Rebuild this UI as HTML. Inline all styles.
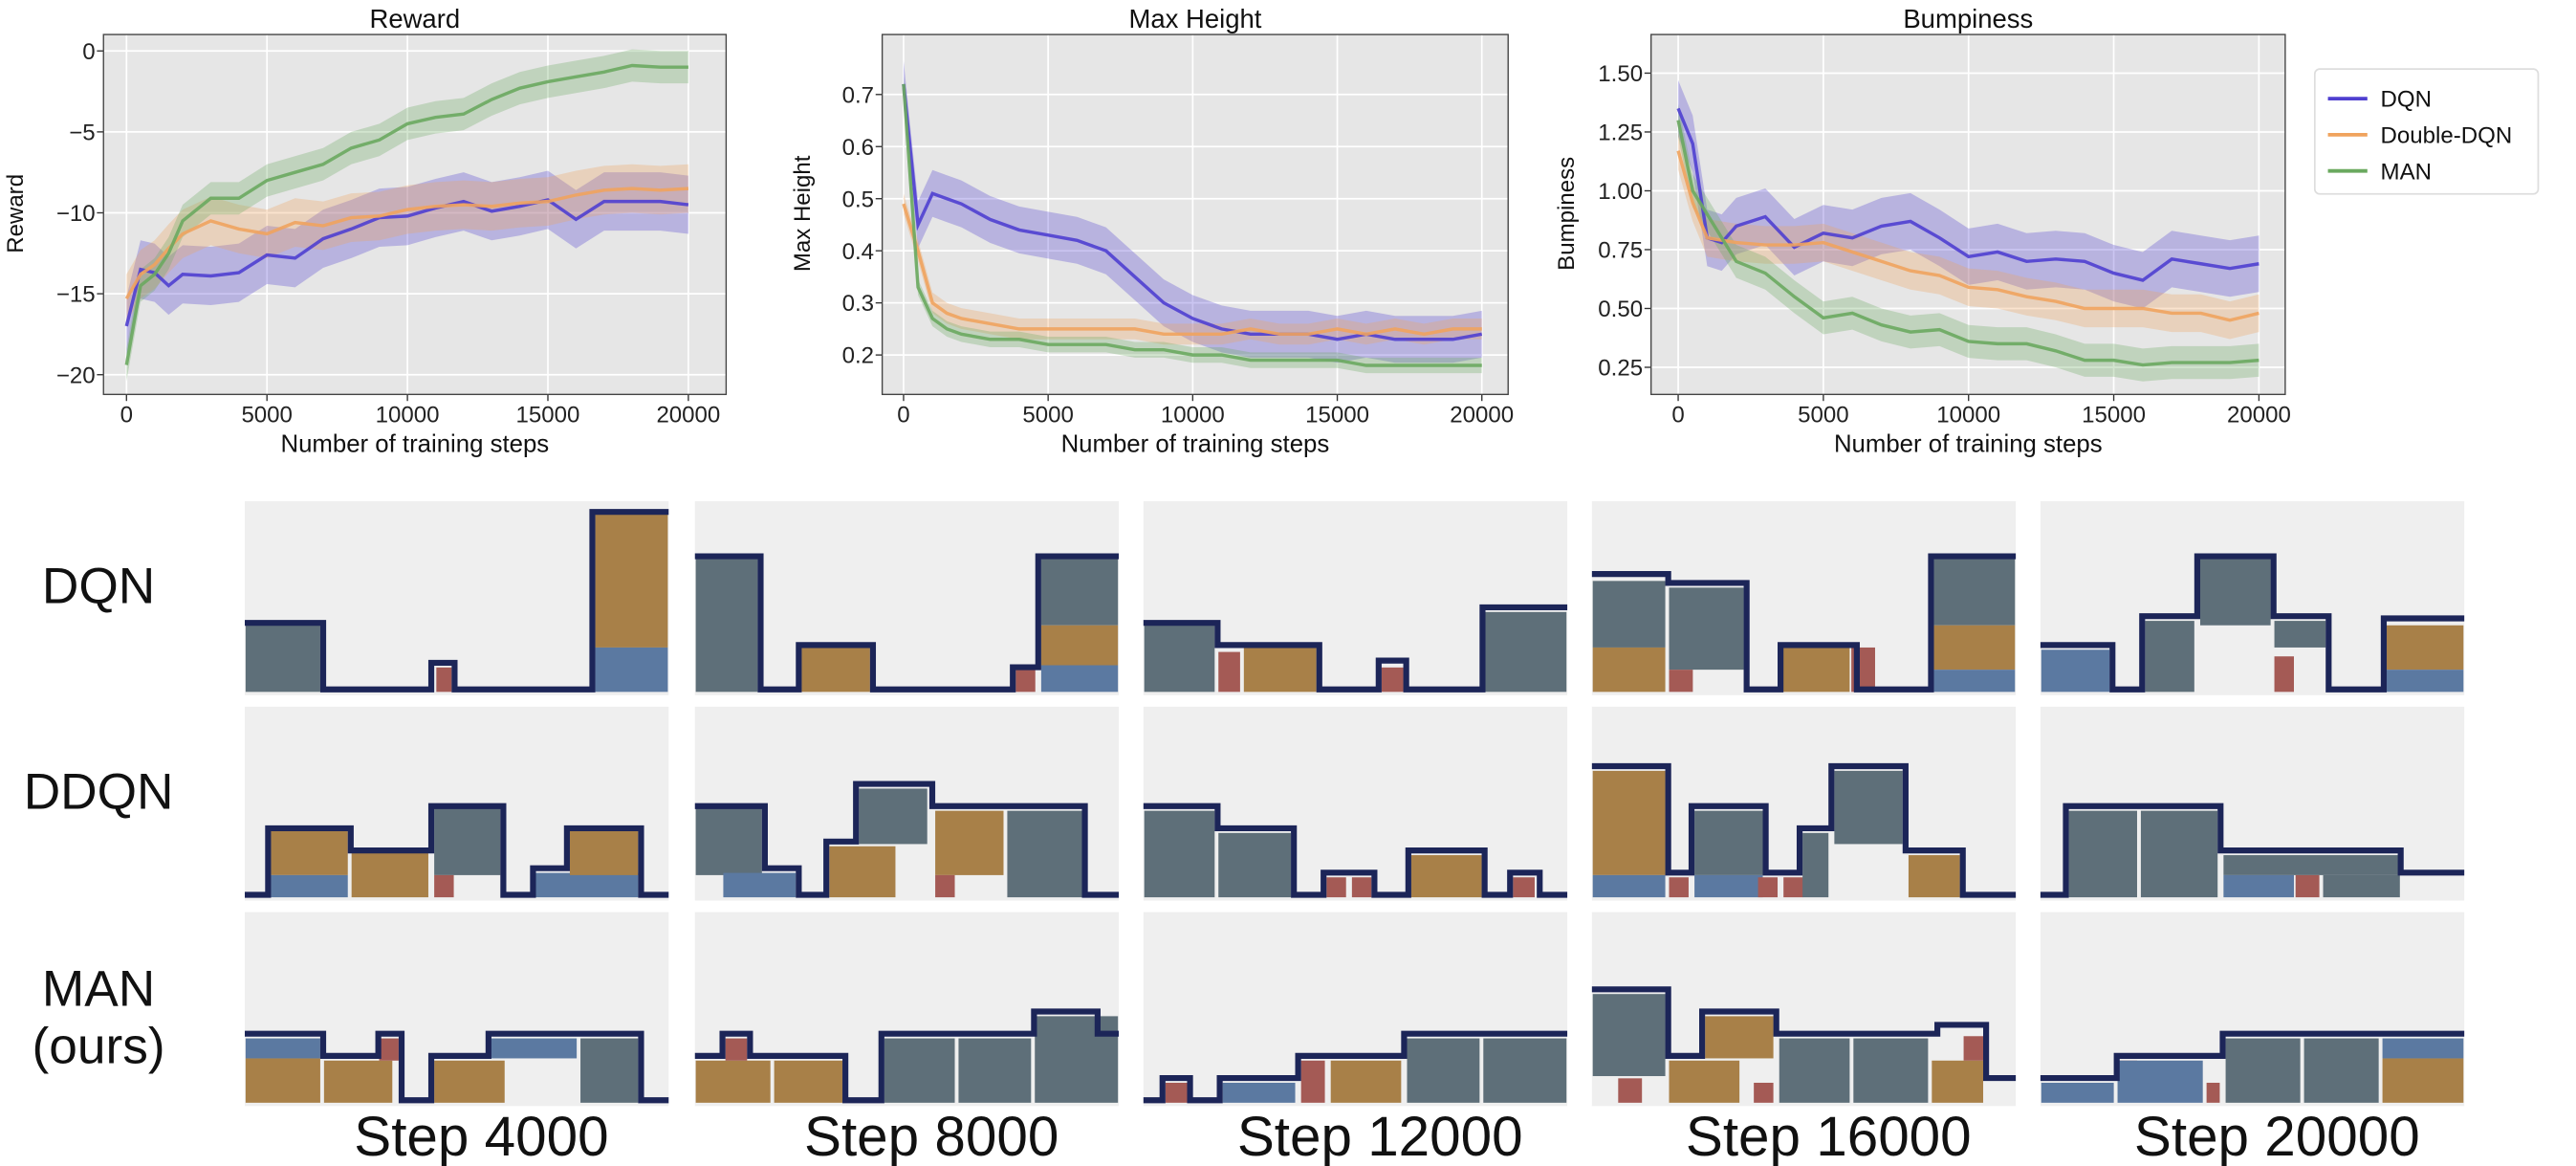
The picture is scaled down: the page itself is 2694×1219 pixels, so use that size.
<!DOCTYPE html>
<html><head><meta charset="utf-8"><style>
html,body{margin:0;padding:0;background:#fff;}
svg{display:block;font-family:"Liberation Sans","DejaVu Sans",sans-serif;}
</style></head><body>
<svg id="fig" width="2694" height="1219" viewBox="0 0 1568 709.5" preserveAspectRatio="none" xmlns="http://www.w3.org/2000/svg"></svg>
<script>
const steps = [0,500,1000,1500,2000,3000,4000,5000,6000,7000,8000,9000,10000,11000,12000,13000,14000,15000,16000,17000,18000,19000,20000];
const xTicks = [0,5000,10000,15000,20000];
const seriesNames = ["DQN","Double-DQN","MAN"];
const rewardDQN = [-17,-13.5,-13.7,-14.5,-13.8,-13.9,-13.7,-12.6,-12.8,-11.6,-11.0,-10.3,-10.2,-9.7,-9.3,-9.9,-9.6,-9.2,-10.4,-9.3,-9.3,-9.3,-9.5];
const rewardDDQN = [-15.3,-13.8,-13.2,-12.2,-11.3,-10.5,-11.0,-11.3,-10.6,-10.8,-10.3,-10.2,-9.8,-9.6,-9.5,-9.6,-9.4,-9.3,-8.9,-8.6,-8.5,-8.6,-8.5];
const rewardMAN = [-19.4,-14.5,-13.8,-12.5,-10.5,-9.1,-9.1,-8.0,-7.5,-7.0,-6.0,-5.5,-4.5,-4.1,-3.9,-3.0,-2.3,-1.9,-1.6,-1.3,-0.9,-1.0,-1.0];
const rewardTicks = [0,-5,-10,-15,-20];
const heightDQN = [0.72,0.45,0.51,0.50,0.49,0.46,0.44,0.43,0.42,0.40,0.35,0.30,0.27,0.25,0.24,0.24,0.24,0.23,0.24,0.23,0.23,0.23,0.24];
const heightDDQN = [0.49,0.40,0.30,0.28,0.27,0.26,0.25,0.25,0.25,0.25,0.25,0.24,0.24,0.24,0.25,0.24,0.24,0.25,0.24,0.25,0.24,0.25,0.25];
const heightMAN = [0.72,0.33,0.27,0.25,0.24,0.23,0.23,0.22,0.22,0.22,0.21,0.21,0.20,0.20,0.19,0.19,0.19,0.19,0.18,0.18,0.18,0.18,0.18];
const heightTicks = [0.2,0.3,0.4,0.5,0.6,0.7];
const bumpDQN = [1.35,1.2,0.80,0.78,0.85,0.89,0.76,0.82,0.80,0.85,0.87,0.80,0.72,0.74,0.70,0.71,0.70,0.65,0.62,0.71,0.69,0.67,0.69];
const bumpDDQN = [1.17,0.95,0.80,0.79,0.78,0.77,0.77,0.78,0.74,0.70,0.66,0.64,0.59,0.58,0.55,0.53,0.50,0.50,0.50,0.48,0.48,0.45,0.48];
const bumpMAN = [1.30,1.0,0.90,0.80,0.70,0.65,0.55,0.46,0.48,0.43,0.40,0.41,0.36,0.35,0.35,0.32,0.28,0.28,0.26,0.27,0.27,0.27,0.28];
const bumpTicks = [0.25,0.5,0.75,1.0,1.25,1.5];
const bandReward = [1.8,1.5,1.0];
const bandHeight = [0.045,0.02,0.015];
const bandBump = [0.12,0.08,0.07];

const NS="http://www.w3.org/2000/svg";
const svg=document.getElementById('fig');
function el(tag,attrs,parent,text){const e=document.createElementNS(NS,tag);for(const k in attrs)e.setAttribute(k,attrs[k]);if(text!==undefined)e.textContent=text;(parent||svg).appendChild(e);return e;}
const colors=["#4f3fd0","#f0a35e","#6aa95f"];

function chart(c){
  const g=el('g',{});
  
  
  const fx=v=>c.x0+(v-0)/(20000)*(c.x1-c.x0);
  const fy=v=>c.ya+(v-c.va)/(c.vb-c.va)*(c.yb-c.ya);
  el('rect',{x:c.L,y:21,width:c.R-c.L,height:219,fill:"#e6e6e6"},g);
  xTicks.forEach(t=>{el('line',{x1:fx(t),x2:fx(t),y1:21,y2:240,stroke:"#fff","stroke-width":1},g);
    const tl=el('text',{x:fx(t),y:257,"text-anchor":"middle","font-size":14,fill:"#222"},g,String(t));
    
    
    el('line',{x1:fx(t),x2:fx(t),y1:240,y2:244,stroke:"#333","stroke-width":0.8},g);});
  c.ticks.forEach(t=>{const y=fy(t);el('line',{x1:c.L,x2:c.R,y1:y,y2:y,stroke:"#fff","stroke-width":1},g);
    const tl=el('text',{x:c.L-5,y:y+5,"text-anchor":"end","font-size":14,fill:"#222"},g,c.fmt(t));
    
    
    el('line',{x1:c.L-4,x2:c.L,y1:y,y2:y,stroke:"#333","stroke-width":0.8},g);});
  c.series.forEach((s,i)=>{
    let up=steps.map((x,j)=>fx(x)+','+fy(s[j]+c.band[i])).join(' ');
    let dn=steps.map((x,j)=>fx(x)+','+fy(s[j]-c.band[i])).reverse().join(' ');
    const b=el('polygon',{points:up+' '+dn,fill:colors[i],"fill-opacity":0.3},g);
    
    
  });
  c.series.forEach((s,i)=>{
    const l=el('polyline',{points:steps.map((x,j)=>fx(x)+','+fy(s[j])).join(' '),fill:"none",stroke:colors[i],"stroke-width":2,"stroke-opacity":0.9},g);
    
    
  });
  el('rect',{x:c.L,y:21,width:c.R-c.L,height:219,fill:"none",stroke:"#444","stroke-width":0.8},g);
  const t=el('text',{x:(c.L+c.R)/2,y:17,"text-anchor":"middle","font-size":16,fill:"#111"},g,c.title);
  
  
  const xl=el('text',{x:(c.L+c.R)/2,y:275,"text-anchor":"middle","font-size":15,fill:"#111"},g,"Number of training steps");
  
  
  const yl=el('text',{x:0,y:0,transform:`translate(${c.ylx},130) rotate(-90)`,"text-anchor":"middle","font-size":14,fill:"#111"},g,c.title);
  
  
}
chart({name:"reward",title:"Reward",L:63,R:442,x0:77,x1:419,va:0,ya:31,vb:-20,yb:228,ticks:rewardTicks,fmt:t=>t<0?'\u2212'+(-t):String(t),series:[rewardDQN,rewardDDQN,rewardMAN],band:bandReward,ylx:14});
chart({name:"max-height",title:"Max Height",L:537,R:918,x0:550,x1:902,va:0.7,ya:57.5,vb:0.2,yb:216,ticks:heightTicks,fmt:t=>t.toFixed(1),series:[heightDQN,heightDDQN,heightMAN],band:bandHeight,ylx:493});
chart({name:"bumpiness",title:"Bumpiness",L:1005,R:1391,x0:1021.5,x1:1375,va:1.5,ya:44.5,vb:0.25,yb:223.5,ticks:bumpTicks,fmt:t=>t.toFixed(2),series:[bumpDQN,bumpDDQN,bumpMAN],band:bandBump,ylx:958});

const lg=el('g',{});


el('rect',{x:1409,y:42,width:136,height:76,rx:3,fill:"#fff",stroke:"#ddd","stroke-width":1},lg);
seriesNames.forEach((n,i)=>{const y=60+i*22;
  el('line',{x1:1417,x2:1441,y1:y,y2:y,stroke:colors[i],"stroke-width":2.2},lg);
  const t=el('text',{x:1449,y:y+5,"font-size":14,fill:"#111"},lg,n);
  
  });

const C={S:"#5e6f79",O:"#a88048",B:"#5b79a1",R:"#a45a55"};
const panelX=[149,423,696,969,1242];
const rowTop=[305,430,555];
const rowLabels=["DQN","DDQN","MAN"];
const stepLabels=["Step 4000","Step 8000","Step 12000","Step 16000","Step 20000"];
const boards=[
[
 {o:[[0,3],[3.7,0],[8.8,1.2],[9.9,0],[16.4,8]],r:[[0,3.6,0,3,'S'],[9,9.8,0,1.1,'R'],[16.5,20,2,8,'O'],[16.5,20,0,2,'B']]},
 {o:[[0,6],[3.1,0],[4.9,2],[8.4,0],[15,1],[16.2,6]],r:[[0,3,0,6,'S'],[5,8.3,0,2,'O'],[15.1,16.1,0,1,'R'],[16.3,20,3,6,'S'],[16.3,20,1.2,3,'O'],[16.3,20,0,1.2,'B']]},
 {o:[[0,3],[3.5,2],[8.3,0],[11.1,1.3],[12.4,0],[16,3.7]],r:[[0,3.4,0,3,'S'],[3.5,4.6,0,1.8,'R'],[4.7,8.2,0,2,'O'],[11.2,12.3,0,1.1,'R'],[16.1,20,0,3.6,'S']]},
 {o:[[0,5.2],[3.6,4.8],[7.3,0],[8.9,2],[12.5,0],[16,6]],r:[[0,3.5,2,5,'S'],[0,3.5,0,2,'O'],[3.6,7.2,1,4.7,'S'],[3.6,4.8,0,1,'R'],[8.9,12.2,0,2,'O'],[12.2,13.4,0,2,'R'],[16.1,20,3,6,'S'],[16.1,20,1,3,'O'],[16.1,20,0,1,'B']]},
 {o:[[0,2],[3.4,0],[4.8,3.3],[7.4,6],[11,3.3],[13.6,0],[16.2,3.2]],r:[[0,3.3,0,1.9,'B'],[4.9,7.3,0,3.2,'S'],[7.5,10.9,3,6,'S'],[11,13.5,2,3.2,'S'],[11,12,0,1.6,'R'],[16.3,20,1,3,'O'],[16.3,20,0,1,'B']]}
],[
 {o:[[0,0],[1.1,3],[5,2],[8.8,4],[12.2,0],[13.6,1.2],[15.2,3],[18.7,0]],r:[[1.2,4.9,1,3,'O'],[1.2,4.9,0,1,'B'],[5,8.7,0,2,'O'],[8.9,12.1,1,4,'S'],[8.9,9.9,0,1,'R'],[13.7,18.6,0,1.1,'B'],[15.3,18.6,1,3,'O']]},
 {o:[[0,4],[3.3,1.2],[4.9,0],[6.2,2.4],[7.6,5],[11.2,4],[18.4,0]],r:[[0,3.2,1,4,'S'],[1.3,4.8,0,1.1,'B'],[6.3,9.5,0,2.3,'O'],[7.7,11,2.4,4.9,'S'],[11.3,14.6,1,3.9,'O'],[11.3,12.3,0,1,'R'],[14.7,18.3,0,3.9,'S']]},
 {o:[[0,4],[3.5,3],[7.1,0],[8.5,1],[10.9,0],[12.5,2],[16.1,0],[17.3,1],[18.7,0]],r:[[0,3.4,0,3.9,'S'],[3.5,7,0,2.9,'S'],[8.6,9.6,0,0.9,'R'],[9.8,10.8,0,0.9,'R'],[12.6,16,0,1.9,'O'],[17.4,18.5,0,0.9,'R']]},
 {o:[[0,5.8],[3.6,1],[4.7,4],[8.2,1],[9.8,3],[11.3,5.8],[14.8,2],[17.5,0]],r:[[0,3.5,1,5.7,'O'],[0,3.5,0,1,'B'],[3.6,4.6,0,0.9,'R'],[4.8,8.1,1,3.9,'S'],[4.8,8.1,0,1,'B'],[7.8,8.8,0,0.9,'R'],[9,10,0,0.9,'R'],[9.9,11.2,0,2.9,'S'],[11.4,14.7,2.4,5.7,'S'],[14.9,17.4,0,1.9,'O']]},
 {o:[[0,0],[1.2,4],[8.5,2],[17,1]],r:[[1.3,4.6,0,3.9,'S'],[4.7,8.4,0,3.9,'S'],[8.6,17,1,1.9,'S'],[8.6,12,0,1,'B'],[12,13.2,0,1,'R'],[13.3,17,0,1,'S']]}
],[
 {o:[[0,3],[3.7,2],[6.3,3],[7.4,0],[8.8,2],[11.5,3],[18.7,0]],r:[[0,3.6,0,2,'O'],[0,3.6,2,2.9,'B'],[3.7,7,0,1.9,'O'],[6.3,7.3,1.9,2.9,'R'],[8.9,12.3,0,1.9,'O'],[11.6,15.7,2,2.9,'B'],[15.8,18.6,0,2.9,'S']]},
 {o:[[0,2],[1.3,3],[2.6,2],[7.1,0],[8.8,3],[16,4],[19,3]],r:[[0,3.6,0,1.9,'O'],[1.4,2.5,1.9,2.9,'R'],[3.7,7,0,1.9,'O'],[8.9,12.3,0,2.9,'S'],[12.4,15.9,0,2.9,'S'],[16,20,0,3.9,'S']]},
 {o:[[0,0],[0.9,1],[2.2,0],[3.6,1],[7.3,2],[12.3,3]],r:[[1,2.1,0,0.9,'R'],[3.7,7.2,0,0.9,'B'],[7.4,8.6,0,1.9,'R'],[8.8,12.2,0,1.9,'O'],[12.4,15.9,0,2.9,'S'],[16,20,0,2.9,'S']]},
 {o:[[0,5],[3.6,2],[5.2,4],[8.7,3],[16.3,3.4],[18.6,1]],r:[[0,3.5,1.2,4.9,'S'],[1.2,2.4,0,1.1,'R'],[3.6,7,0,1.9,'O'],[5.3,8.6,2,3.9,'O'],[7.6,8.6,0,0.9,'R'],[8.8,12.2,0,2.9,'S'],[12.3,15.9,0,2.9,'S'],[16,18.5,0,1.9,'O'],[17.5,18.5,1.9,3,'R']]},
 {o:[[0,1],[3.6,2],[8.6,3]],r:[[0,3.5,0,0.9,'B'],[3.6,4.6,1,1.9,'R'],[3.6,7.7,0,1.9,'B'],[7.8,8.5,0,0.9,'R'],[8.7,12.3,0,2.9,'S'],[12.4,16,0,2.9,'S'],[16.1,20,0,2,'O'],[16.1,20,2,2.9,'B']]}
]];
const PW=258,PH=118,U=PW/20,V=13.5;
boards.forEach((row,ri)=>{
  const rl=el('g',{});
  
  
  if(ri<2){el('text',{x:60,y:rowTop[ri]+62,"text-anchor":"middle","font-size":31,fill:"#111"},rl,rowLabels[ri]);}
  else{el('text',{x:60,y:rowTop[ri]+57,"text-anchor":"middle","font-size":31,fill:"#111"},rl,"MAN");
       el('text',{x:60,y:rowTop[ri]+92,"text-anchor":"middle","font-size":31,fill:"#111"},rl,"(ours)");}
  row.forEach((b,ci)=>{
    const px=panelX[ci],py=rowTop[ri],base=py+PH-2;
    const g=el('g',{});
    
    
    el('rect',{x:px,y:py,width:PW,height:PH,fill:"#efefef"},g);
    b.r.forEach(r=>{el('rect',{x:px+r[0]*U+0.5,y:base-r[3]*V,width:(r[1]-r[0])*U-1,height:(r[3]-r[2])*V,fill:C[r[4]]},g);});
    let pts=[];
    b.o.forEach((s,i)=>{const x=px+s[0]*U, y=base-s[1]*V-1.5; const xe=px+(i<b.o.length-1?b.o[i+1][0]:20)*U;
      pts.push(x+','+y); pts.push(xe+','+y);});
    el('polyline',{points:pts.join(' '),fill:"none",stroke:"#1c2558","stroke-width":3.6,"stroke-linejoin":"miter"},g);
  });
});
stepLabels.forEach((s,i)=>{const t=el('text',{x:panelX[i]+PW/2+15,y:703,"text-anchor":"middle","font-size":34,fill:"#111"},svg,s);
  
  });
</script>
</body></html>
